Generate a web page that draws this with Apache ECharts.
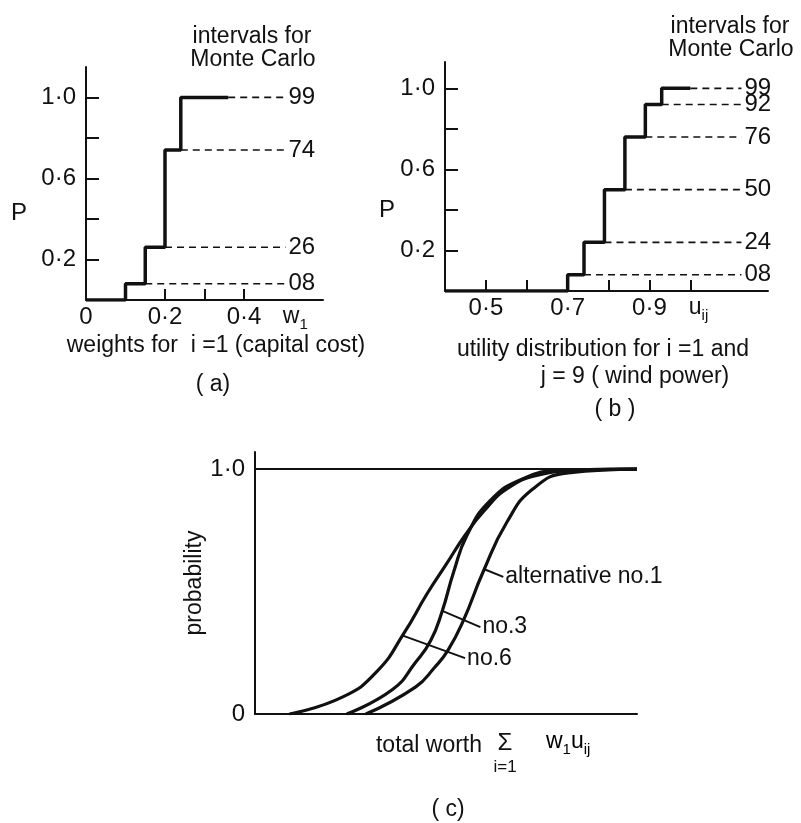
<!DOCTYPE html>
<html>
<head>
<meta charset="utf-8">
<script src="https://cdn.jsdelivr.net/npm/echarts@6/dist/echarts.min.js"></script>
<style>
html, body { margin: 0; padding: 0; background: #fff; }
#chart { width: 801px; height: 823px; }
</style>
</head>
<body>
<div id="chart"></div>
<script>
// (a) weights for i = 1 (capital cost) – cumulative step
const weightX = [0, 0.10, 0.15, 0.20, 0.24, 0.36];
const weightP = [0, 0.08, 0.26, 0.74, 1.00, 1.00];
const weightDashFrom = [0.15, 0.20, 0.24, 0.36];
const weightDashLevel = [0.08, 0.26, 0.74, 1.00];
const weightDashTag = ['08', '26', '74', '99'];
const weightDashTo = 0.505;

// (b) utility distribution for i = 1, j = 9 (wind power)
const utilX = [0.40, 0.70, 0.74, 0.79, 0.84, 0.89, 0.93, 1.00];
const utilP = [0, 0.08, 0.24, 0.50, 0.76, 0.92, 1.00, 1.00];
const utilDashFrom = [0.74, 0.79, 0.84, 0.89, 0.93, 1.00];
const utilDashLevel = [0.08, 0.24, 0.50, 0.76, 0.92, 1.00];
const utilDashTag = ['08', '24', '50', '76', '92', '99'];
const utilDashTo = 1.125;

// (c) total worth curves
const alt6X = [9, 23, 32, 39, 45, 50, 55, 60, 66, 74, 85, 100];
const alt6P = [0, 0.07, 0.175, 0.33, 0.49, 0.61, 0.73, 0.83, 0.92, 0.975, 0.995, 1.0];
const alt3X = [24, 36, 42, 46, 49, 52, 55.5, 61.5, 70, 80, 100];
const alt3P = [0, 0.10, 0.21, 0.30, 0.42, 0.58, 0.73, 0.87, 0.96, 0.995, 1.0];
const alt1X = [29, 42, 47, 50.5, 54.5, 59.7, 66, 72.8, 82, 100];
const alt1P = [0, 0.11, 0.19, 0.26, 0.38, 0.58, 0.785, 0.92, 0.985, 1.0];
// leader lines: [curve point, label point]
const leaderNames = ['alternative no.1', 'no.3', 'no.6'];
const leaderFrom = [[60.2, 0.59], [49.2, 0.42], [38.7, 0.32]];
const leaderTo = [[65.0, 0.56], [59.0, 0.355], [55.0, 0.228]];

const INK = '#111';
const FONT = 'Liberation Sans';

const zip = (xs, ys) => xs.map((x, i) => [x, ys[i]]);
const dot = v => (v === 0 ? '0' : v.toFixed(1).replace('.', '·'));

const chart = echarts.init(document.getElementById('chart'));

// dashed level lines with their Monte Carlo tags
function dashSeries(from, level, tags, to, idx) {
  return from.map((x, i) => ({
    type: 'line',
    xAxisIndex: idx, yAxisIndex: idx,
    symbol: 'none',
    silent: true,
    data: [[x, level[i]], [to, level[i]]],
    lineStyle: { color: INK, width: 1.6, type: [7, 5] },
    endLabel: {
      show: true, formatter: tags[i], distance: 3,
      fontFamily: FONT, fontSize: 24, color: INK
    }
  }));
}

const valueAxisY = (idx, max, labels, ticks) => ({
  type: 'value', gridIndex: idx, min: 0, max: max,
  splitLine: { show: false },
  axisLine: { show: true, lineStyle: { color: INK, width: 2 } },
  axisTick: { show: true, inside: true, length: 13, customValues: ticks, lineStyle: { color: INK, width: 2 } },
  axisLabel: { customValues: labels, formatter: dot, fontFamily: FONT, fontSize: 24, color: INK, margin: 10 }
});

const richSub = {
  m: { fontFamily: FONT, fontSize: 23, color: INK, lineHeight: 27, verticalAlign: 'top' },
  s: { fontFamily: FONT, fontSize: 15, color: INK, lineHeight: 27, verticalAlign: 'bottom' }
};

const curveStyle = { color: INK, width: 3.2 };

const option = {
  animation: false,
  backgroundColor: '#fff',
  grid: [
    { left: 86, top: 67, width: 237, height: 233 },
    { left: 445, top: 62, width: 323, height: 229 },
    { left: 255, top: 452, width: 382, height: 262 }
  ],
  xAxis: [
    {
      type: 'value', gridIndex: 0, min: 0, max: 0.6,
      splitLine: { show: false },
      axisLine: { lineStyle: { color: INK, width: 2 } },
      axisTick: { show: true, inside: true, length: 11, customValues: [0.1, 0.2, 0.3, 0.4], lineStyle: { color: INK, width: 2 } },
      axisLabel: {
        customValues: [0, 0.2, 0.4, 0.53], margin: 5,
        fontFamily: FONT, fontSize: 24, color: INK,
        formatter: v => (v === 0.53 ? '{m|w}{s|1}' : dot(v)),
        rich: richSub
      }
    },
    {
      type: 'value', gridIndex: 1, min: 0.4, max: 1.19,
      splitLine: { show: false },
      axisLine: { lineStyle: { color: INK, width: 2 } },
      axisTick: { show: true, inside: true, length: 11, customValues: [0.5, 0.6, 0.7, 0.8, 0.9, 1.0], lineStyle: { color: INK, width: 2 } },
      axisLabel: {
        customValues: [0.5, 0.7, 0.9, 1.02], margin: 5,
        fontFamily: FONT, fontSize: 24, color: INK,
        formatter: v => (v === 1.02 ? '{m|u}{s|ij}' : dot(v)),
        rich: richSub
      }
    },
    {
      type: 'value', gridIndex: 2, min: 0, max: 100,
      splitLine: { show: false },
      axisLine: { lineStyle: { color: INK, width: 2 } },
      axisTick: { show: false },
      axisLabel: { show: false }
    }
  ],
  yAxis: [
    valueAxisY(0, 1.15, [0.2, 0.6, 1.0], [0.2, 0.4, 0.6, 0.8, 1.0]),
    valueAxisY(1, 1.13, [0.2, 0.6, 1.0], [0.2, 0.4, 0.6, 0.8, 1.0]),
    {
      type: 'value', gridIndex: 2, min: 0, max: 1.07,
      name: 'probability', nameLocation: 'middle', nameGap: 26, nameRotate: 90,
      nameTextStyle: { fontFamily: FONT, fontSize: 23, color: INK },
      splitLine: { show: false },
      axisLine: { show: true, lineStyle: { color: INK, width: 2 } },
      axisTick: { show: false },
      axisLabel: { customValues: [0, 1.0], formatter: dot, fontFamily: FONT, fontSize: 24, color: INK, margin: 10 }
    }
  ],
  series: [
    {
      type: 'line', xAxisIndex: 0, yAxisIndex: 0, step: 'end', symbol: 'none',
      data: zip(weightX, weightP), lineStyle: { color: INK, width: 3.5 }
    },
    ...dashSeries(weightDashFrom, weightDashLevel, weightDashTag, weightDashTo, 0),
    {
      type: 'line', xAxisIndex: 1, yAxisIndex: 1, step: 'end', symbol: 'none',
      data: zip(utilX, utilP), lineStyle: { color: INK, width: 3.5 }
    },
    ...dashSeries(utilDashFrom, utilDashLevel, utilDashTag, utilDashTo, 1),
    {
      type: 'line', xAxisIndex: 2, yAxisIndex: 2, symbol: 'none', smooth: 0.5,
      data: zip(alt6X, alt6P), lineStyle: curveStyle,
      markLine: {
        silent: true, symbol: 'none', label: { show: false },
        data: [{ yAxis: 1 }], lineStyle: { color: INK, width: 2, type: 'solid' }
      }
    },
    {
      type: 'line', xAxisIndex: 2, yAxisIndex: 2, symbol: 'none', smooth: 0.5,
      data: zip(alt3X, alt3P), lineStyle: curveStyle
    },
    {
      type: 'line', xAxisIndex: 2, yAxisIndex: 2, symbol: 'none', smooth: 0.5,
      data: zip(alt1X, alt1P), lineStyle: curveStyle
    },
    ...leaderNames.map((name, i) => ({
      type: 'line', xAxisIndex: 2, yAxisIndex: 2, symbol: 'none', silent: true,
      data: [leaderFrom[i], leaderTo[i]],
      lineStyle: { color: INK, width: 2 },
      endLabel: { show: true, formatter: name, distance: 2, fontFamily: FONT, fontSize: 23, color: INK }
    }))
  ],
  graphic: [
    // panel (a)
    { type: 'text', x: 252, y: 37, style: { text: 'intervals for', align: 'center', verticalAlign: 'middle', font: '23px "Liberation Sans"', fill: INK } },
    { type: 'text', x: 253, y: 60, style: { text: 'Monte Carlo', align: 'center', verticalAlign: 'middle', font: '23px "Liberation Sans"', fill: INK } },
    { type: 'text', x: 19, y: 213, style: { text: 'P', align: 'center', verticalAlign: 'middle', font: '24px "Liberation Sans"', fill: INK } },
    { type: 'text', x: 216, y: 346, style: { text: 'weights for  i =1 (capital cost)', align: 'center', verticalAlign: 'middle', font: '23px "Liberation Sans"', fill: INK } },
    { type: 'text', x: 213, y: 385, style: { text: '( a)', align: 'center', verticalAlign: 'middle', font: '23px "Liberation Sans"', fill: INK } },
    // panel (b)
    { type: 'text', x: 730, y: 27, style: { text: 'intervals for', align: 'center', verticalAlign: 'middle', font: '23px "Liberation Sans"', fill: INK } },
    { type: 'text', x: 731, y: 50, style: { text: 'Monte Carlo', align: 'center', verticalAlign: 'middle', font: '23px "Liberation Sans"', fill: INK } },
    { type: 'text', x: 387, y: 210, style: { text: 'P', align: 'center', verticalAlign: 'middle', font: '24px "Liberation Sans"', fill: INK } },
    { type: 'text', x: 603, y: 350, style: { text: 'utility distribution for i =1 and', align: 'center', verticalAlign: 'middle', font: '23px "Liberation Sans"', fill: INK } },
    { type: 'text', x: 635, y: 377, style: { text: 'j = 9 ( wind power)', align: 'center', verticalAlign: 'middle', font: '23px "Liberation Sans"', fill: INK } },
    { type: 'text', x: 615, y: 410, style: { text: '( b )', align: 'center', verticalAlign: 'middle', font: '23px "Liberation Sans"', fill: INK } },
    // panel (c)
    { type: 'text', x: 429, y: 746, style: { text: 'total worth', align: 'center', verticalAlign: 'middle', font: '23px "Liberation Sans"', fill: INK } },
    { type: 'text', x: 505, y: 743, style: { text: 'Σ', align: 'center', verticalAlign: 'middle', font: '24px "Liberation Sans"', fill: INK } },
    { type: 'text', x: 505, y: 767, style: { text: 'i=1', align: 'center', verticalAlign: 'middle', font: '17px "Liberation Sans"', fill: INK } },
    { type: 'text', x: 546, y: 744, style: { text: '{m|w}{s|1}{m|u}{s|ij}', align: 'left', verticalAlign: 'middle', rich: richSub } },
    { type: 'text', x: 448, y: 810, style: { text: '( c)', align: 'center', verticalAlign: 'middle', font: '23px "Liberation Sans"', fill: INK } }
  ]
};

chart.setOption(option);
</script>
</body>
</html>
